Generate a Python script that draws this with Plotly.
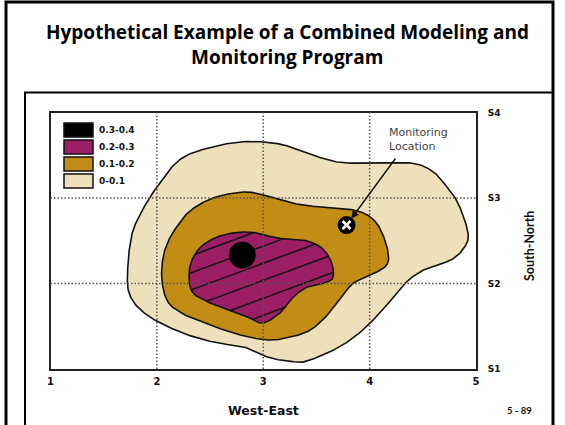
import numpy as np
import plotly.graph_objects as go

# ---------------- data ----------------
x_ticks = [1, 2, 3, 4, 5]
x_tick_labels = ["1", "2", "3", "4", "5"]
y_ticks = [1, 2, 3, 4]
y_tick_labels = ["S1", "S2", "S3", "S4"]
x_grid = [2, 3, 4]
y_grid = [2, 3]

# concentration contours (West-East, South-North)
tan_x = [1.726, 1.764, 1.840, 1.981, 2.217, 2.528, 2.849, 3.160, 3.377, 3.698, 4.009, 4.387,
         4.575, 4.698, 4.830, 4.925, 4.887, 4.764, 4.547, 4.387, 4.264, 4.104, 3.915, 3.698,
         3.443, 3.321, 3.066, 2.849, 2.528, 2.217, 1.906, 1.745]
tan_y = [2.181, 2.567, 2.801, 3.094, 3.450, 3.600, 3.660, 3.630, 3.538, 3.421, 3.409, 3.409,
         3.327, 3.175, 2.942, 2.591, 2.415, 2.275, 2.181, 2.064, 1.901, 1.667, 1.433, 1.246,
         1.105, 1.082, 1.129, 1.246, 1.316, 1.433, 1.632, 1.865]

gold_x = [2.179, 2.311, 2.528, 2.811, 3.000, 3.226, 3.443, 3.698, 3.887, 4.019, 4.104, 4.170,
          4.160, 4.009, 3.849, 3.726, 3.604, 3.443, 3.255, 3.047, 2.783, 2.500, 2.264, 2.104,
          2.047, 2.057, 2.104]
gold_y = [2.649, 2.848, 3.000, 3.070, 3.035, 2.953, 2.906, 2.883, 2.848, 2.766, 2.626, 2.392,
          2.216, 2.099, 2.006, 1.830, 1.632, 1.456, 1.374, 1.339, 1.398, 1.515, 1.632, 1.784,
          2.041, 2.298, 2.485]

mag_x = [2.434, 2.623, 2.877, 3.132, 3.377, 3.538, 3.632, 3.660, 3.604, 3.415, 3.283, 3.189,
         3.066, 2.972, 2.877, 2.717, 2.500, 2.340, 2.302, 2.330]
mag_y = [2.450, 2.567, 2.602, 2.532, 2.509, 2.427, 2.275, 2.099, 2.018, 1.959, 1.842, 1.690,
         1.573, 1.538, 1.596, 1.667, 1.772, 1.889, 2.076, 2.275]

peak_x, peak_y = [2.802], [2.333]
monitor_x, monitor_y = [3.783], [2.684]

legend_labels = ["0.3-0.4", "0.2-0.3", "0.1-0.2", "0-0.1"]
legend_colors = ["#000000", "#9C1F66", "#C18D14", "#EDE0BA"]

hatch_slope = 0.46
hatch_ref_x = 2.311
hatch_offsets = [2.32, 2.12, 1.92, 1.72, 1.51, 1.31]

# ---------------- helpers ----------------
W, H = 565, 425


def pxx(p):
    return p / W


def pxy(p):
    return 1 - p / H


def smooth_closed(x, y, n=20):
    P = np.column_stack([x, y])
    N = len(P)
    t = np.linspace(0, 1, n, endpoint=False)[:, None]
    t2, t3 = t * t, t * t * t
    out = []
    for i in range(N):
        p0, p1, p2, p3 = P[(i - 1) % N], P[i], P[(i + 1) % N], P[(i + 2) % N]
        out.append(0.5 * (2 * p1 + (-p0 + p2) * t + (2 * p0 - 5 * p1 + 4 * p2 - p3) * t2
                          + (-p0 + 3 * p1 - 3 * p2 + p3) * t3))
    out = np.vstack(out)
    out = np.vstack([out, out[:1]])
    return out[:, 0], out[:, 1]


def hatch(px_, py_, slope, xr, offsets):
    xs, ys = [], []
    for c in offsets:
        f = py_ - (slope * (px_ - xr) + c)
        pts = []
        for i in range(len(f) - 1):
            if (f[i] > 0) != (f[i + 1] > 0):
                tt = f[i] / (f[i] - f[i + 1])
                pts.append(px_[i] + tt * (px_[i + 1] - px_[i]))
        pts.sort()
        for a, b in zip(pts[0::2], pts[1::2]):
            xs += [a, b, None]
            ys += [slope * (a - xr) + c, slope * (b - xr) + c, None]
    return xs, ys


fig = go.Figure()

for cx, cy, col in [(tan_x, tan_y, legend_colors[3]),
                    (gold_x, gold_y, legend_colors[2]),
                    (mag_x, mag_y, legend_colors[1])]:
    sx, sy = smooth_closed(cx, cy)
    fig.add_trace(go.Scatter(x=sx, y=sy, mode="lines", fill="toself", fillcolor=col,
                             line=dict(color="#111111", width=1.6), hoverinfo="skip",
                             showlegend=False))

msx, msy = smooth_closed(mag_x, mag_y)
hx, hy = hatch(msx, msy, hatch_slope, hatch_ref_x, hatch_offsets)
fig.add_trace(go.Scatter(x=hx, y=hy, mode="lines", line=dict(color="#111111", width=1.5),
                         hoverinfo="skip", showlegend=False))

fig.add_trace(go.Scatter(x=peak_x, y=peak_y, mode="markers",
                         marker=dict(symbol="circle", size=27, color="#000000"),
                         hoverinfo="skip", showlegend=False))
fig.add_trace(go.Scatter(x=monitor_x, y=monitor_y, mode="markers",
                         marker=dict(symbol="circle", size=18, color="#000000"),
                         hoverinfo="skip", showlegend=False))
fig.add_trace(go.Scatter(x=monitor_x, y=monitor_y, mode="markers",
                         marker=dict(symbol="x-thin", size=8,
                                     line=dict(width=2.6, color="white")),
                         hoverinfo="skip", showlegend=False))

shapes = []
for g in x_grid:
    shapes.append(dict(type="line", xref="x", yref="y domain", x0=g, x1=g, y0=0, y1=1,
                       layer="above", line=dict(color="#555555", width=1.5, dash="1.5px,2px")))
for g in y_grid:
    shapes.append(dict(type="line", xref="x domain", yref="y", x0=0, x1=1, y0=g, y1=g,
                       layer="above", line=dict(color="#555555", width=1.5, dash="1.5px,2px")))

# slide borders
shapes.append(dict(type="rect", xref="paper", yref="paper", x0=pxx(6), x1=pxx(553),
                   y0=pxy(440), y1=pxy(2), line=dict(color="#000", width=3)))
shapes.append(dict(type="rect", xref="paper", yref="paper", x0=pxx(25), x1=pxx(553),
                   y0=pxy(440), y1=pxy(92.5), line=dict(color="#000", width=2)))

annotations = []
# legend
for i, (lab, col) in enumerate(zip(legend_labels, legend_colors)):
    cy = 130 + 17 * i
    shapes.append(dict(type="rect", xref="paper", yref="paper", x0=pxx(64), x1=pxx(93),
                       y0=pxy(cy + 7), y1=pxy(cy - 7), fillcolor=col,
                       line=dict(color="#111", width=1.5)))
    annotations.append(dict(xref="paper", yref="paper", x=pxx(97), y=pxy(cy), text=lab,
                            showarrow=False, xanchor="left", yanchor="middle",
                            font=dict(family="DejaVu Sans", size=9, weight="bold",
                                      color="#111")))

annotations += [
    dict(xref="paper", yref="paper", x=pxx(287), y=pxy(32),
         text="Hypothetical Example of a Combined Modeling and", showarrow=False,
         xanchor="center", yanchor="middle",
         font=dict(family="Open Sans", size=19, weight="bold", color="#000")),
    dict(xref="paper", yref="paper", x=pxx(287), y=pxy(57),
         text="Monitoring Program", showarrow=False,
         xanchor="center", yanchor="middle",
         font=dict(family="Open Sans", size=19, weight="bold", color="#000")),
    dict(xref="paper", yref="paper", x=pxx(263), y=pxy(410), text="West-East",
         showarrow=False, xanchor="center", yanchor="middle",
         font=dict(family="DejaVu Sans", size=12.5, weight="bold", color="#111")),
    dict(xref="paper", yref="paper", x=pxx(529), y=pxy(246), text="South-North",
         showarrow=False, textangle=-90, xanchor="center", yanchor="middle",
         font=dict(family="Lato", size=12.5, weight="bold", color="#111")),
    dict(xref="paper", yref="paper", x=pxx(519), y=pxy(410), text="5 - 89",
         showarrow=False, xanchor="center", yanchor="middle",
         font=dict(family="Lato", size=9.5, weight="bold", color="#111")),
    dict(x=monitor_x[0], y=monitor_y[0], text="", showarrow=True, ax=50, ay=-68,
         arrowhead=2, arrowsize=1.1, arrowwidth=1.4, arrowcolor="#111", standoff=8),
    dict(x=monitor_x[0], y=monitor_y[0], xshift=40, yshift=86,
         text="Monitoring<br>Location", showarrow=False, xanchor="left",
         yanchor="middle", align="left",
         font=dict(family="DejaVu Sans", size=11, color="#444")),
]

fig.update_layout(
    width=W, height=H, margin=dict(l=0, r=0, t=0, b=0),
    paper_bgcolor="white", plot_bgcolor="white", showlegend=False,
    shapes=shapes, annotations=annotations,
    xaxis=dict(range=[1, 5], domain=[50.5 / W, 476 / W], tickvals=x_ticks,
               ticktext=x_tick_labels, showgrid=False, zeroline=False, showline=True,
               linewidth=2, linecolor="#222", mirror=True, ticks="", automargin=False,
               ticklabelstandoff=2,
               tickfont=dict(family="DejaVu Sans", size=10, weight="bold", color="#111")),
    yaxis=dict(range=[1, 4], domain=[(H - 369) / H, (H - 112.5) / H], tickvals=y_ticks,
               ticktext=y_tick_labels, side="right", showgrid=False, zeroline=False,
               showline=True, linewidth=2, linecolor="#222", mirror=True, ticks="",
               automargin=False, ticklabelstandoff=8,
               tickfont=dict(family="DejaVu Sans", size=9, weight="bold", color="#111")),
)

fig.write_html("out.html", config={"displayModeBar": False},
               post_script="document.body.style.margin='0px';"
                           "document.body.style.overflow='hidden';")
